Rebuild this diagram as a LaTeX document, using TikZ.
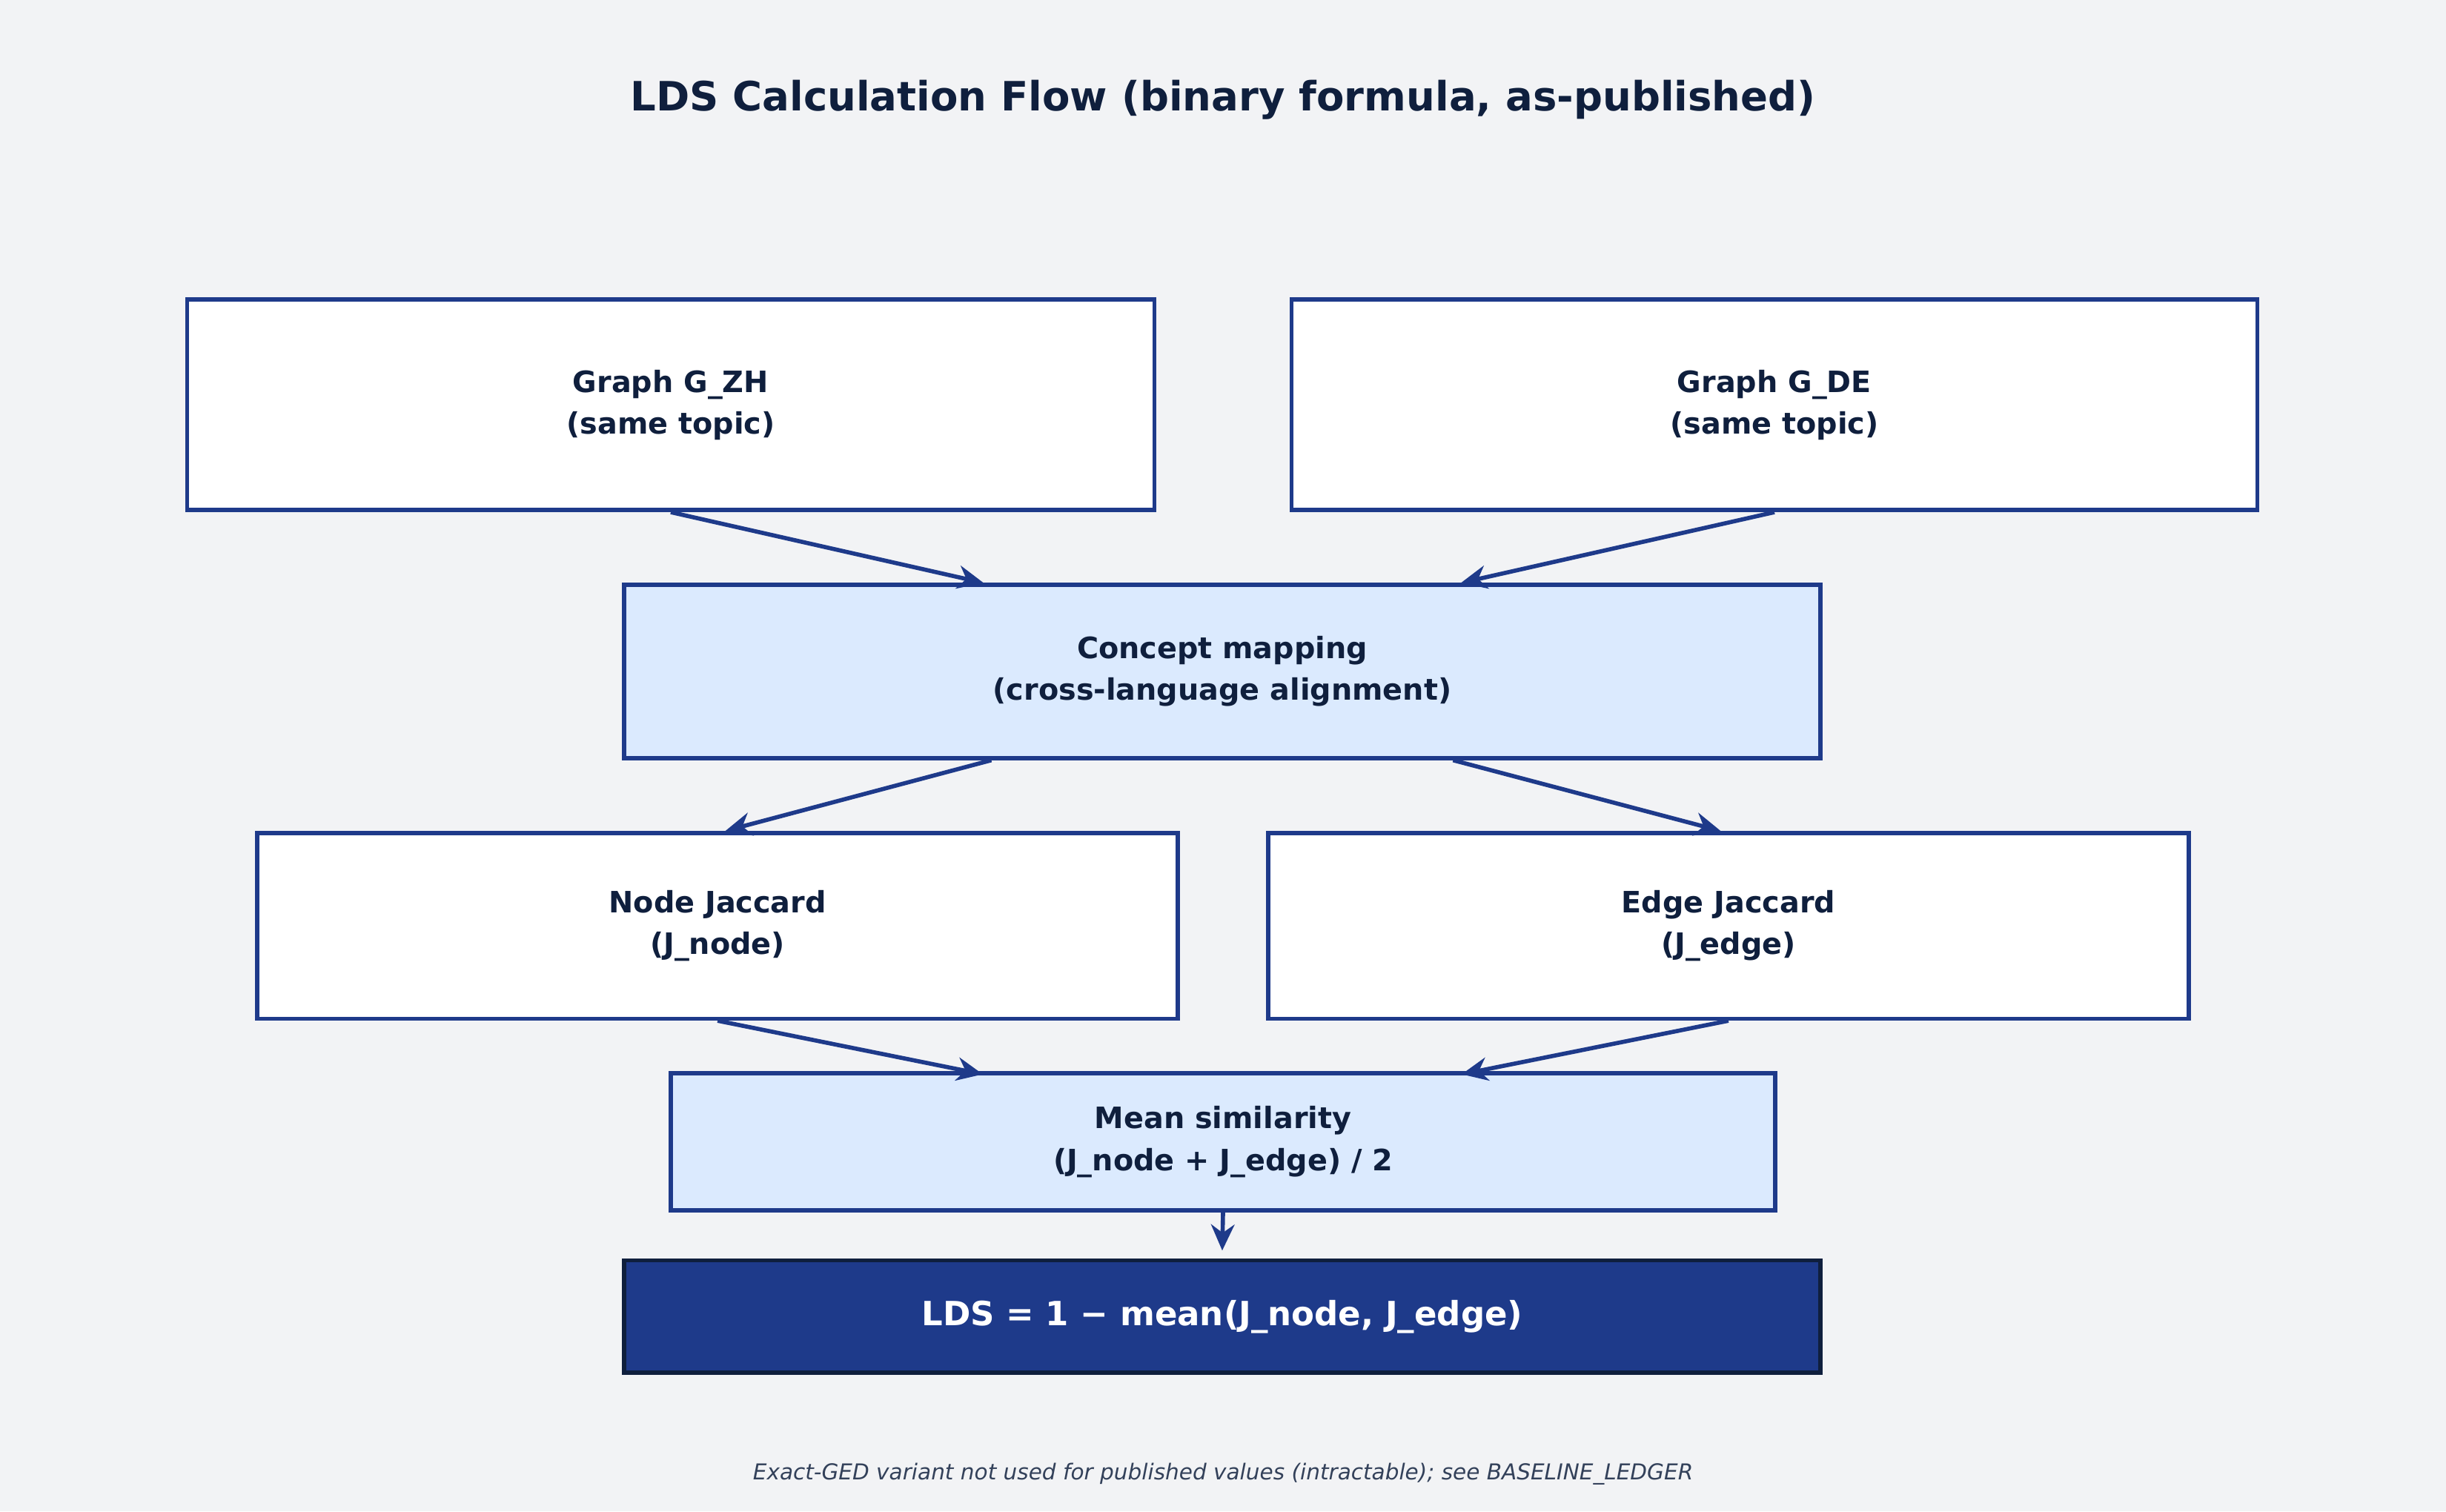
\documentclass[tikz,border=0pt]{standalone}
\usepackage{fontspec}
\setmainfont{DejaVu Sans}
\usetikzlibrary{calc,arrows.meta}
\definecolor{bg}{HTML}{F2F3F5}
\definecolor{bd}{HTML}{1E3A8A}
\definecolor{lf}{HTML}{DBEAFE}
\definecolor{tx}{HTML}{0F1F3D}
\definecolor{ft}{HTML}{33415A}
\begin{document}
\begin{tikzpicture}[x=0.021046cm,y=-0.021046cm,
  box/.style={draw=bd,line width=1.6pt,fill=white,inner sep=0pt,align=center,font=\bfseries\fontsize{11.3}{16}\selectfont,text=tx},
  arr/.style={draw=bd,line width=1.6pt,-{Stealth[length=10pt,width=9pt]}}]
\fill[bg] (0,0) rectangle (1568,969);
\useasboundingbox (0,0) rectangle (1568,969);
\node[text=tx,font=\bfseries\fontsize{15.5}{18}\selectfont] (title) at (784,64) {LDS Calculation Flow (binary formula, as-published)};
\node[box,minimum width=620*0.021046cm,minimum height=135*0.021046cm] (zh) at (430,259.5) {Graph G\_ZH\\(same topic)};
\node[box,minimum width=619*0.021046cm,minimum height=135*0.021046cm] (de) at (1137.5,259.5) {Graph G\_DE\\(same topic)};
\node[box,fill=lf,minimum width=767*0.021046cm,minimum height=111*0.021046cm] (cm) at (783.5,430.5) {Concept mapping\\(cross-language alignment)};
\node[box,minimum width=590*0.021046cm,minimum height=119*0.021046cm] (nj) at (460,593.5) {Node Jaccard\\(J\_node)};
\node[box,minimum width=590*0.021046cm,minimum height=119*0.021046cm] (ej) at (1108,593.5) {Edge Jaccard\\(J\_edge)};
\node[box,fill=lf,minimum width=708*0.021046cm,minimum height=88*0.021046cm] (ms) at (784,732) {Mean similarity\\(J\_node + J\_edge) / 2};
\node[box,fill=bd,draw=tx,text=white,font=\bfseries\fontsize{12.8}{16}\selectfont,minimum width=767*0.021046cm,minimum height=72*0.021046cm] (lds) at (783.5,844) {LDS = 1 − mean(J\_node, J\_edge)};
\node[text=ft,font=\itshape\fontsize{8.4}{10}\selectfont] (fn) at (784,945) {Exact-GED variant not used for published values (intractable); see BASELINE\_LEDGER};
\draw[arr] (zh.south) -- ($(cm.north)+(-153,0)$);
\draw[arr] (de.south) -- ($(cm.north)+(153,0)$);
\draw[arr] ($(cm.south)+(-148,0)$) -- ($(nj.north)+(5,0)$);
\draw[arr] ($(cm.south)+(148,0)$) -- ($(ej.north)+(-5,0)$);
\draw[arr] (nj.south) -- ($(ms.north)+(-154,2)$);
\draw[arr] (ej.south) -- ($(ms.north)+(153,2)$);
\draw[arr] (ms.south) -- ($(lds.north)+(0,-5)$);
\end{tikzpicture}
\end{document}
